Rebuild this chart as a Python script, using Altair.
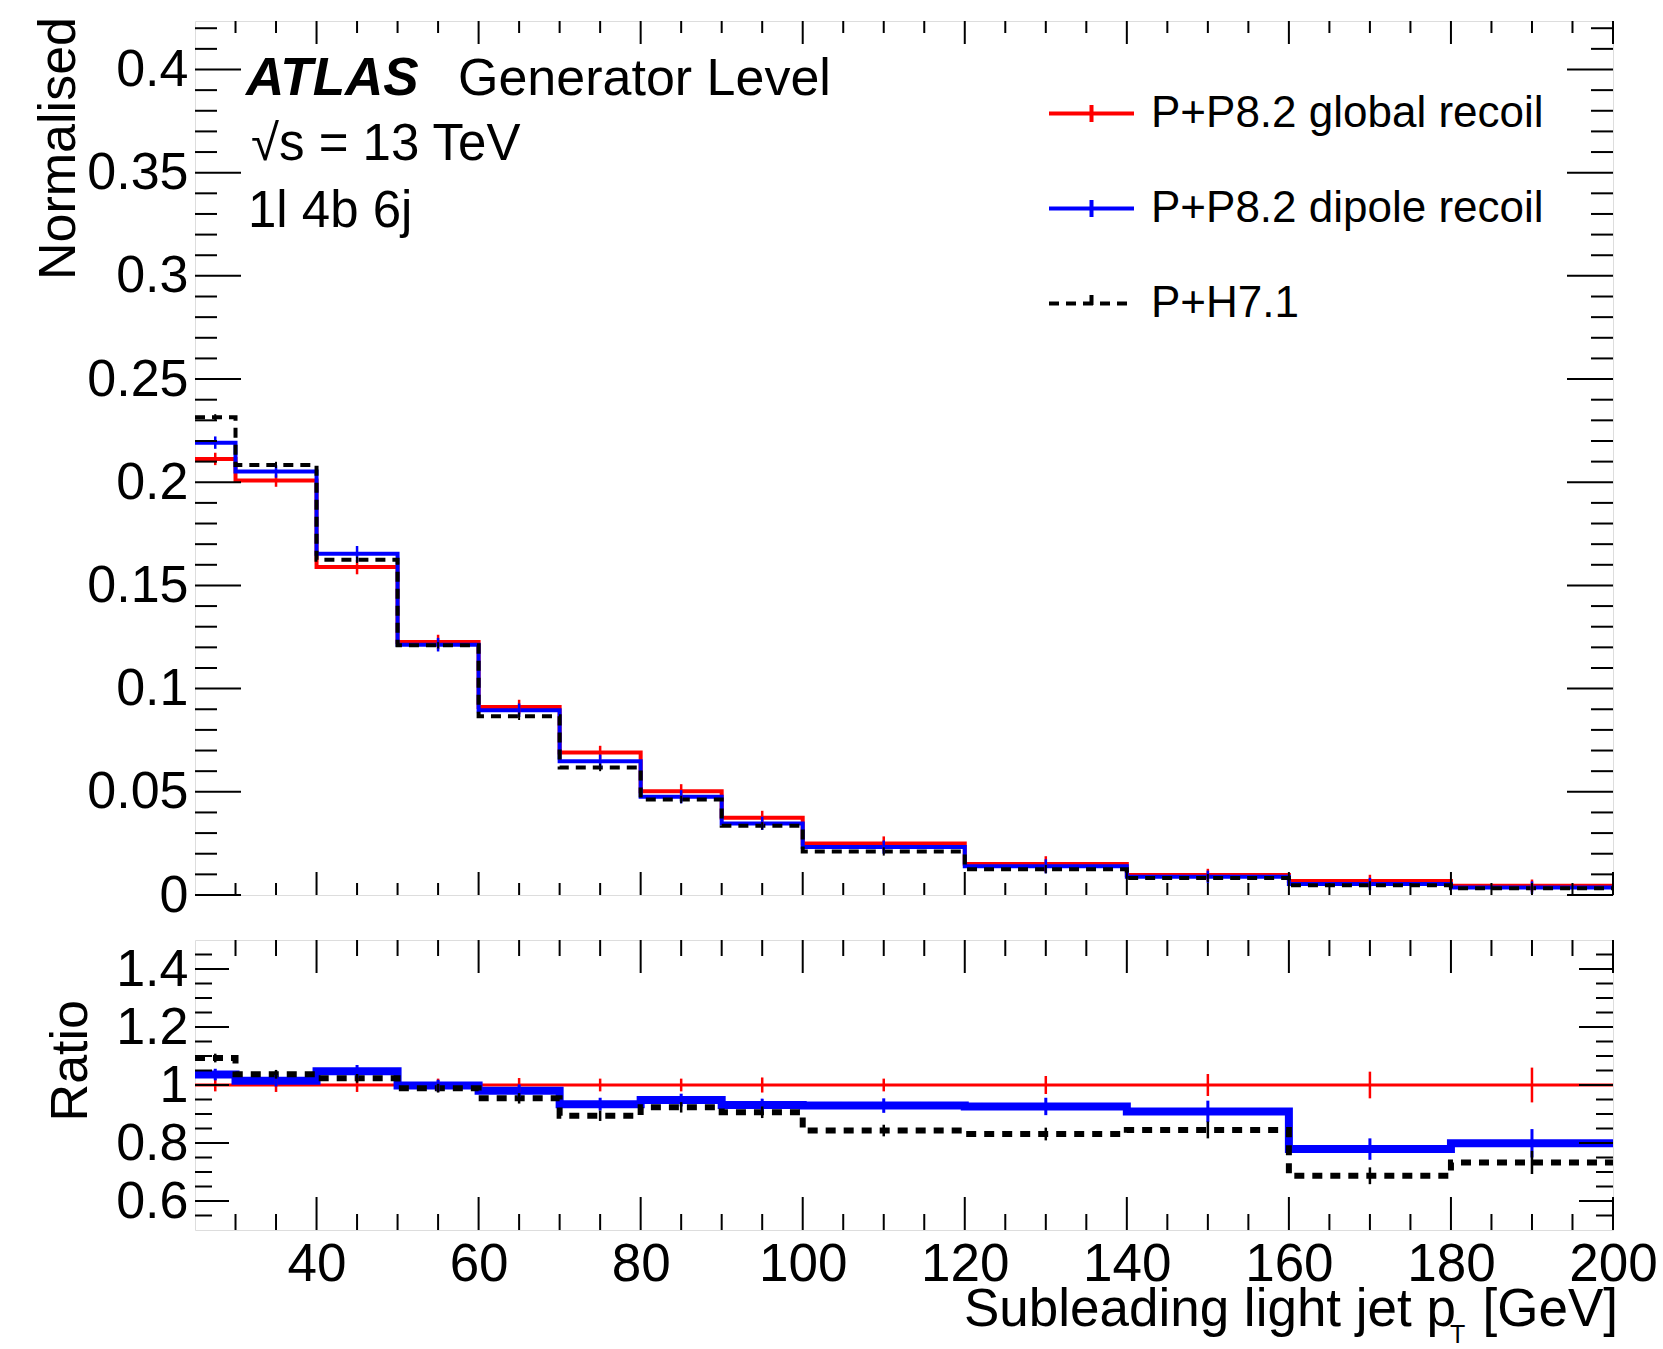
import altair as alt
import pandas as pd

# ---------------- data ----------------
SERIES = ["P+P8.2 global recoil", "P+P8.2 dipole recoil", "P+H7.1"]
COLORS = ["#ff0000", "#0000ff", "#000000"]

BIN_LO = [25, 30, 40, 50, 60, 70, 80, 90, 100, 120, 140, 160, 180]
BIN_HI = [30, 40, 50, 60, 70, 80, 90, 100, 120, 140, 160, 180, 200]

NORM_GLOBAL = [0.2113, 0.2008, 0.1589, 0.1226, 0.0911, 0.0690, 0.0503, 0.0374, 0.0250, 0.0150, 0.0097, 0.0068, 0.0045]
NORM_DIPOLE = [0.2192, 0.2052, 0.1653, 0.1213, 0.0895, 0.0648, 0.0476, 0.0347, 0.0232, 0.0139, 0.0088, 0.0053, 0.0036]
NORM_H7 = [0.2315, 0.2084, 0.1624, 0.1210, 0.0866, 0.0618, 0.0463, 0.0335, 0.0211, 0.0125, 0.0082, 0.0047, 0.0033]

ERR_GLOBAL = [0.0030, 0.0030, 0.0035, 0.0035, 0.0035, 0.0033, 0.0034, 0.0034, 0.0034, 0.0038, 0.0030, 0.0030, 0.0030]
ERR_DIPOLE = [0.0030, 0.0030, 0.0038, 0.0033, 0.0033, 0.0032, 0.0032, 0.0032, 0.0032, 0.0034, 0.0030, 0.0030, 0.0030]
ERR_H7 = [0.0015, 0.0015, 0.0015, 0.0015, 0.0018, 0.0018, 0.0018, 0.0018, 0.0020, 0.0020, 0.0020, 0.0020, 0.0020]

RATIO_GLOBAL = [1.000, 1.000, 1.000, 1.000, 1.000, 1.000, 1.000, 1.000, 1.000, 1.000, 1.000, 1.000, 1.000]
RATIO_DIPOLE = [1.036, 1.015, 1.047, 0.998, 0.980, 0.934, 0.948, 0.931, 0.929, 0.926, 0.909, 0.779, 0.799]
RATIO_H7 = [1.093, 1.037, 1.023, 0.989, 0.954, 0.894, 0.923, 0.906, 0.843, 0.831, 0.845, 0.687, 0.733]

RERR_GLOBAL = [0.022, 0.024, 0.024, 0.022, 0.024, 0.022, 0.022, 0.026, 0.022, 0.031, 0.038, 0.046, 0.060]
RERR_DIPOLE = [0.020, 0.020, 0.022, 0.020, 0.022, 0.022, 0.022, 0.022, 0.025, 0.030, 0.037, 0.037, 0.049]
RERR_H7 = [0.015, 0.015, 0.015, 0.015, 0.018, 0.018, 0.018, 0.020, 0.020, 0.022, 0.029, 0.029, 0.040]

X_LABELS = [40, 60, 80, 100, 120, 140, 160, 180, 200]
X_MINOR = [30, 35, 45, 50, 55, 65, 70, 75, 85, 90, 95, 105, 110, 115, 125, 130, 135,
           145, 150, 155, 165, 170, 175, 185, 190, 195]
Y_MAIN_LABELS = [0, 0.05, 0.1, 0.15, 0.2, 0.25, 0.3, 0.35, 0.4]
Y_MAIN_MINOR = [0.01, 0.02, 0.03, 0.04, 0.06, 0.07, 0.08, 0.09, 0.11, 0.12, 0.13, 0.14,
                0.16, 0.17, 0.18, 0.19, 0.21, 0.22, 0.23, 0.24, 0.26, 0.27, 0.28, 0.29,
                0.31, 0.32, 0.33, 0.34, 0.36, 0.37, 0.38, 0.39, 0.41, 0.42]
Y_RATIO_LABELS = [0.6, 0.8, 1.0, 1.2, 1.4]
Y_RATIO_MINOR = [0.55, 0.65, 0.7, 0.75, 0.85, 0.9, 0.95, 1.05, 1.1, 1.15, 1.25, 1.3, 1.35, 1.45]

HEADER = ["ATLAS", "Generator Level", "√s = 13 TeV", "1l 4b 6j"]
Y_TITLE_MAIN = "Normalised"
Y_TITLE_RATIO = "Ratio"
X_TITLE = ["Subleading light jet p", "T", "[GeV]"]

# ---------------- styling ----------------
FONT = "Liberation Sans"
W, H, HR = 1418, 874, 290
X_DOMAIN = [25, 200]
Y_MAIN_DOMAIN = [0, 0.4235]
Y_RATIO_DOMAIN = [0.5, 1.5]
MAIN_DASHES = [[1, 0], [1, 0], [10, 7]]


def step_table(values):
    rows = []
    for name, vals in zip(SERIES, values):
        for lo, v in zip(BIN_LO, vals):
            rows.append({"series": name, "x": lo, "y": v})
        rows.append({"series": name, "x": BIN_HI[-1], "y": vals[-1]})
    return pd.DataFrame(rows)


def err_table(values, errs):
    rows = []
    for name, vals, es in zip(SERIES, values, errs):
        for lo, hi, v, e in zip(BIN_LO, BIN_HI, vals, es):
            rows.append({"series": name, "x": (lo + hi) / 2, "y": v - e, "y2": v + e})
    return pd.DataFrame(rows)


main_steps = step_table([NORM_GLOBAL, NORM_DIPOLE, NORM_H7])
main_errs = err_table([NORM_GLOBAL, NORM_DIPOLE, NORM_H7], [ERR_GLOBAL, ERR_DIPOLE, ERR_H7])
ratio_steps = step_table([RATIO_GLOBAL, RATIO_DIPOLE, RATIO_H7])
ratio_errs = err_table([RATIO_GLOBAL, RATIO_DIPOLE, RATIO_H7], [RERR_GLOBAL, RERR_DIPOLE, RERR_H7])

X_SCALE = alt.Scale(domain=X_DOMAIN, nice=False, zero=False)
Y_MAIN = alt.Scale(domain=Y_MAIN_DOMAIN, nice=False, zero=False)
Y_RATIO = alt.Scale(domain=Y_RATIO_DOMAIN, nice=False, zero=False)

Y_MAIN_AXIS = alt.Axis(values=Y_MAIN_LABELS, format="~g", title=None, ticks=False, tickSize=0,
                       domain=False, grid=False, labelFontSize=52, labelFont=FONT,
                       labelColor="black", labelPadding=7, labelOverlap=False, labelFlush=False)
Y_RATIO_AXIS = alt.Axis(values=Y_RATIO_LABELS, format="~g", title=None, ticks=False, tickSize=0,
                        domain=False, grid=False, labelFontSize=52, labelFont=FONT,
                        labelColor="black", labelPadding=7, labelOverlap=False, labelFlush=False)
X_RATIO_AXIS = alt.Axis(values=X_LABELS, format="d", title=None, ticks=False, tickSize=0,
                        domain=False, grid=False, labelFontSize=53, labelFont=FONT,
                        labelColor="black", labelPadding=50, labelBaseline="alphabetic",
                        labelOverlap=False, labelFlush=False)


def tick_layers(yscale, yaxis, xaxis, y_major, y_minor, height, ly_maj, ly_min, lx_maj, lx_min):
    layers = []
    for vals, ln in ((y_major, ly_maj), (y_minor, ly_min)):
        df = pd.DataFrame({"y": vals})
        base = alt.Chart(df).mark_rule(color="black", strokeWidth=2)
        enc_y = alt.Y("y:Q", scale=yscale, axis=yaxis)
        layers.append(base.encode(y=enc_y, x=alt.value(0), x2=alt.value(ln)))
        layers.append(base.encode(y=enc_y, x=alt.value(W - ln), x2=alt.value(W)))
    for vals, ln in ((X_LABELS, lx_maj), (X_MINOR, lx_min)):
        df = pd.DataFrame({"x": vals})
        base = alt.Chart(df).mark_rule(color="black", strokeWidth=2)
        enc_x = alt.X("x:Q", scale=X_SCALE, axis=xaxis)
        layers.append(base.encode(x=enc_x, y=alt.value(height), y2=alt.value(height - ln)))
        layers.append(base.encode(x=enc_x, y=alt.value(0), y2=alt.value(ln)))
    return layers


legend = alt.Legend(orient="none", legendX=852, legendY=48, title=None, padding=0,
                    symbolType="M-1,0H1M0,-0.2V0.2", symbolSize=7225, symbolStrokeWidth=4,
                    labelFontSize=44, labelFont=FONT, labelColor="black", labelOffset=15,
                    rowPadding=28, labelLimit=0)

main_lines = alt.Chart(main_steps).mark_line(interpolate="step-after", strokeWidth=4).encode(
    x=alt.X("x:Q", scale=X_SCALE, axis=None),
    y=alt.Y("y:Q", scale=Y_MAIN, axis=Y_MAIN_AXIS),
    color=alt.Color("series:N", scale=alt.Scale(domain=SERIES, range=COLORS), legend=legend),
    strokeDash=alt.StrokeDash("series:N", scale=alt.Scale(domain=SERIES, range=MAIN_DASHES),
                              legend=legend),
)

main_layers = [main_lines]
for name, col, w in zip(SERIES, COLORS, [2.5, 2.5, 2]):
    main_layers.append(
        alt.Chart(main_errs).transform_filter(alt.datum.series == name)
        .mark_rule(color=col, strokeWidth=w)
        .encode(x=alt.X("x:Q", scale=X_SCALE, axis=None),
                y=alt.Y("y:Q", scale=Y_MAIN, axis=Y_MAIN_AXIS), y2="y2:Q")
    )
main_layers += tick_layers(Y_MAIN, Y_MAIN_AXIS, None, Y_MAIN_LABELS, Y_MAIN_MINOR, H, 46, 22, 23, 12)


def text_layer(txt, **kw):
    return alt.Chart(pd.DataFrame({"t": [txt]})).mark_text(font=FONT, color="black", **kw).encode(
        text="t:N")


main_layers += [
    text_layer(HEADER[0], align="left", baseline="alphabetic", fontSize=53, fontWeight="bold",
               fontStyle="italic", x=51, y=74),
    text_layer(HEADER[1], align="left", baseline="alphabetic", fontSize=52, x=263, y=74),
    text_layer(HEADER[2], align="left", baseline="alphabetic", fontSize=51, x=56, y=139),
    text_layer(HEADER[3], align="left", baseline="alphabetic", fontSize=51, x=53, y=206),
    text_layer(Y_TITLE_MAIN, align="right", baseline="middle", fontSize=52, angle=270,
               x=-136, y=-4),
]

main = alt.layer(*main_layers).properties(width=W, height=H)

ratio_layers = []
for name, col, w, dash in zip(SERIES, COLORS, [3, 8, 6], [[1, 0], [1, 0], [10, 8]]):
    ratio_layers.append(
        alt.Chart(ratio_steps).transform_filter(alt.datum.series == name)
        .mark_line(interpolate="step-after", color=col, strokeWidth=w, strokeDash=dash)
        .encode(x=alt.X("x:Q", scale=X_SCALE, axis=X_RATIO_AXIS),
                y=alt.Y("y:Q", scale=Y_RATIO, axis=Y_RATIO_AXIS))
    )
for name, col, w in zip(SERIES, COLORS, [2.5, 3, 2.5]):
    ratio_layers.append(
        alt.Chart(ratio_errs).transform_filter(alt.datum.series == name)
        .mark_rule(color=col, strokeWidth=w)
        .encode(x=alt.X("x:Q", scale=X_SCALE, axis=X_RATIO_AXIS),
                y=alt.Y("y:Q", scale=Y_RATIO, axis=Y_RATIO_AXIS), y2="y2:Q")
    )
ratio_layers += tick_layers(Y_RATIO, Y_RATIO_AXIS, X_RATIO_AXIS, Y_RATIO_LABELS, Y_RATIO_MINOR,
                            HR, 34, 17, 33, 16)
ratio_layers += [
    text_layer(Y_TITLE_RATIO, align="right", baseline="middle", fontSize=52, angle=270,
               x=-124, y=60),
    text_layer(X_TITLE[0], align="right", baseline="alphabetic", fontSize=53, x=1261, y=386),
    text_layer(X_TITLE[1], align="left", baseline="alphabetic", fontSize=25, x=1255, y=403),
    text_layer(X_TITLE[2], align="right", baseline="alphabetic", fontSize=53, x=1423, y=386),
]

ratio = alt.layer(*ratio_layers).properties(width=W, height=HR)

chart = alt.vconcat(main, ratio, spacing=45, bounds="flush").resolve_scale(
    color="independent", strokeDash="independent"
).properties(
    padding={"left": 32, "top": 16, "right": 0, "bottom": 0},
    background="white",
).configure_view(stroke="black", strokeWidth=2.5).configure(font=FONT)

chart.save("out.html", embed_options={"renderer": "svg", "actions": False})
